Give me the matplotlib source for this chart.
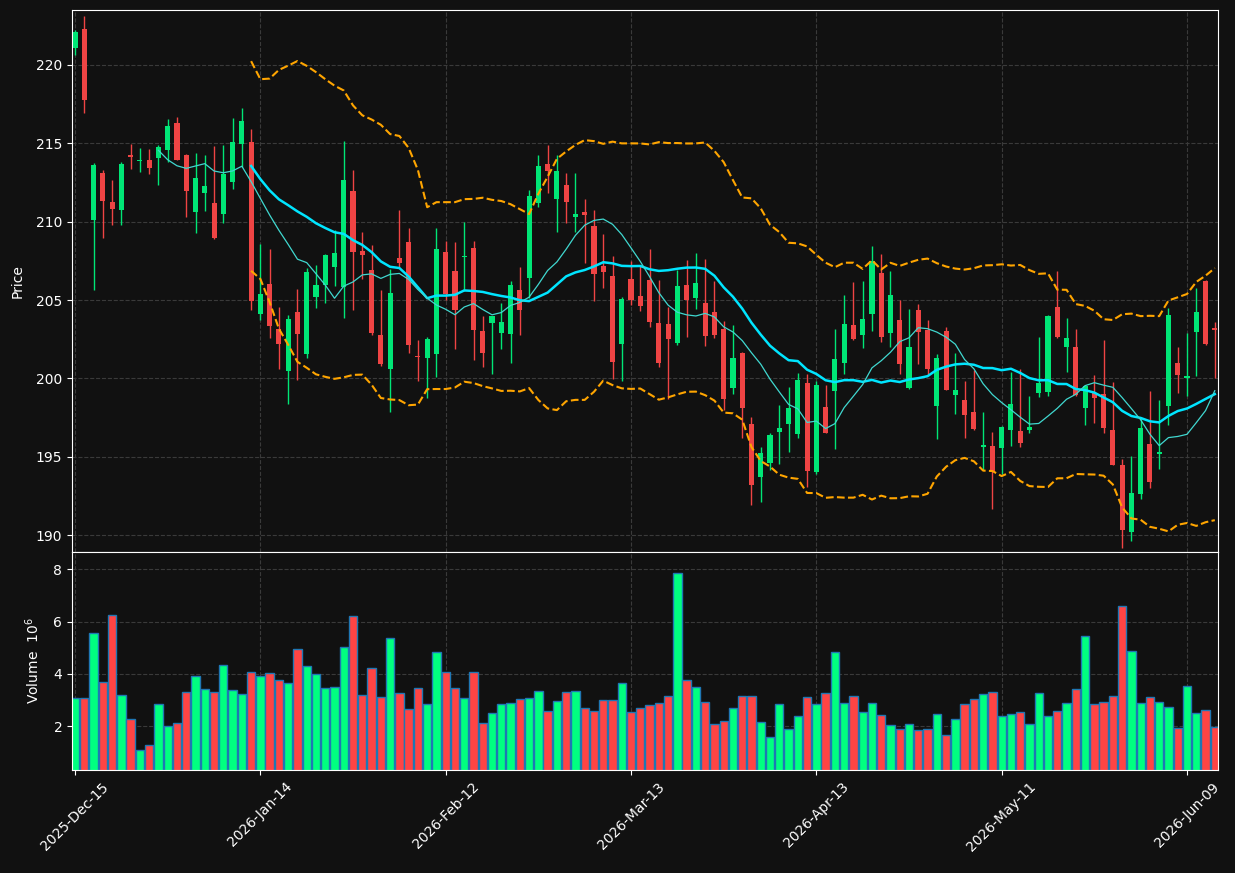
import numpy as np
import pandas as pd
import matplotlib
matplotlib.use('Agg')
import matplotlib.pyplot as plt

# daily OHLC and volume in millions
opens = [221.11, 222.28, 210.13, 213.10, 211.26, 210.75, 214.26, 213.88, 213.92, 214.08,
         214.57, 216.30, 214.26, 210.64, 211.84, 211.20, 210.51, 212.55, 214.97, 215.08,
         204.12, 206.03, 203.15, 200.49, 204.24, 201.55, 205.21, 205.99, 207.14, 205.81,
         211.95, 208.14, 206.92, 202.77, 200.62, 207.67, 208.71, 201.46, 201.33, 201.55,
         208.07, 206.85, 207.76, 208.31, 203.02, 203.55, 202.93, 202.86, 205.63, 206.43,
         211.20, 213.68, 211.46, 212.35, 210.27, 210.62, 209.73, 207.16, 206.54, 202.20,
         206.34, 205.26, 206.27, 203.53, 203.48, 202.28, 205.96, 205.10, 204.81, 204.24,
         203.15, 199.40, 201.62, 197.10, 193.73, 194.61, 196.61, 197.12, 196.45, 199.71,
         194.01, 198.18, 199.18, 201.00, 203.41, 202.79, 204.12, 206.72, 202.88, 203.73,
         199.38, 204.37, 203.08, 198.23, 203.02, 198.96, 198.63, 197.85, 195.65, 195.70,
         195.57, 196.72, 196.65, 196.72, 199.07, 199.16, 204.57, 202.02, 202.00, 198.12,
         199.07, 199.00, 196.72, 194.48, 190.18, 192.66, 195.79, 195.21, 198.27, 200.98,
         200.00, 202.99, 206.21, 203.24]
highs = [222.24, 223.13, 213.75, 213.30, 212.64, 213.79, 214.97, 214.68, 214.63, 214.86,
         216.52, 216.65, 214.30, 214.39, 214.24, 214.81, 214.88, 216.59, 217.23, 215.90,
         208.60, 208.25, 204.55, 204.04, 205.70, 207.05, 207.21, 207.92, 209.49, 215.12,
         213.28, 209.31, 208.54, 205.63, 206.98, 210.73, 209.58, 202.48, 202.66, 209.58,
         208.76, 208.69, 209.96, 208.76, 203.97, 204.01, 204.83, 206.19, 207.14, 212.00,
         214.24, 214.88, 214.24, 213.08, 213.08, 211.42, 210.73, 209.20, 207.80, 205.19,
         207.49, 207.21, 208.25, 206.25, 204.55, 206.90, 207.54, 207.98, 207.61, 206.19,
         203.64, 203.44, 201.66, 197.56, 195.61, 196.50, 198.29, 199.47, 200.33, 200.27,
         199.82, 199.56, 203.15, 205.30, 206.14, 206.19, 208.43, 207.92, 206.83, 204.99,
         204.43, 204.72, 203.73, 201.55, 203.28, 201.60, 199.82, 200.56, 197.83, 196.56,
         196.96, 200.40, 200.60, 198.87, 202.64, 204.04, 206.85, 203.84, 203.15, 199.60,
         200.22, 202.44, 199.78, 194.86, 195.06, 197.45, 199.18, 198.60, 204.48, 202.00,
         202.88, 205.76, 206.25, 203.59]
lows = [220.62, 216.96, 205.63, 208.98, 209.76, 209.80, 213.39, 213.19, 213.02, 212.37,
        213.81, 213.92, 210.27, 209.27, 210.71, 208.91, 209.89, 212.11, 213.48, 204.35,
        203.70, 202.55, 200.62, 198.40, 199.91, 201.29, 204.48, 204.83, 205.88, 203.84,
        204.35, 206.32, 202.77, 200.78, 197.85, 207.10, 201.60, 199.82, 198.74, 200.11,
        204.99, 201.86, 205.59, 201.15, 200.71, 200.29, 201.86, 200.98, 202.75, 205.10,
        210.91, 211.84, 209.31, 209.89, 209.31, 207.38, 204.92, 205.76, 199.98, 199.84,
        204.66, 204.30, 203.28, 200.71, 198.67, 202.11, 202.66, 204.43, 202.04, 202.59,
        198.00, 198.98, 196.23, 191.91, 192.13, 194.17, 194.57, 195.34, 196.19, 193.06,
        193.88, 196.50, 195.50, 200.29, 202.44, 201.95, 203.02, 202.31, 201.99, 200.29,
        199.33, 200.93, 200.27, 196.12, 199.25, 197.72, 196.23, 196.74, 194.17, 191.69,
        193.90, 195.72, 195.65, 196.50, 198.80, 198.89, 202.60, 200.40, 198.85, 197.01,
        197.18, 196.50, 194.48, 189.18, 189.65, 192.28, 193.02, 194.21, 197.01, 199.05,
        198.85, 200.18, 202.11, 200.00]
closes = [222.11, 217.78, 213.61, 211.29, 210.78, 213.68, 214.15, 213.92, 213.41, 214.77,
          216.10, 213.95, 211.97, 212.79, 212.28, 208.98, 213.04, 215.08, 216.43, 204.92,
          205.39, 203.37, 202.22, 203.79, 202.86, 206.78, 205.96, 207.87, 207.98, 212.66,
          208.09, 207.85, 202.88, 200.89, 205.43, 207.38, 202.15, 201.40, 202.51, 208.25,
          205.37, 204.39, 207.80, 203.10, 201.64, 203.99, 203.59, 205.96, 204.39, 211.62,
          213.53, 213.26, 213.24, 211.26, 210.47, 210.44, 206.65, 206.81, 201.06, 205.08,
          205.01, 204.59, 203.61, 201.00, 202.53, 205.90, 204.99, 206.08, 202.73, 202.79,
          198.71, 201.31, 198.12, 193.22, 195.23, 196.39, 196.83, 198.12, 199.89, 194.12,
          199.58, 196.54, 201.24, 203.48, 202.53, 203.79, 207.47, 202.66, 205.32, 200.89,
          202.00, 202.99, 200.62, 201.31, 199.29, 199.27, 197.69, 196.79, 195.74, 194.01,
          196.90, 198.40, 195.88, 196.90, 199.71, 203.99, 202.62, 202.57, 198.94, 199.51,
          198.78, 196.83, 194.50, 190.35, 192.68, 196.83, 193.41, 195.34, 204.04, 200.24,
          200.16, 204.24, 202.20, 203.06]
volumes = [3.08, 3.08, 5.58, 3.69, 6.27, 3.19, 2.27, 1.08, 1.27, 2.85,
           2.00, 2.12, 3.31, 3.92, 3.42, 3.31, 4.35, 3.38, 3.23, 4.08,
           3.92, 4.04, 3.77, 3.65, 4.96, 4.31, 4.00, 3.46, 3.50, 5.04,
           6.23, 3.19, 4.23, 3.12, 5.38, 3.27, 2.65, 3.46, 2.85, 4.85,
           4.08, 3.46, 3.08, 4.08, 2.12, 2.50, 2.85, 2.88, 3.04, 3.08,
           3.35, 2.58, 2.96, 3.31, 3.35, 2.69, 2.58, 3.00, 3.00, 3.65,
           2.54, 2.69, 2.81, 2.88, 3.15, 7.88, 3.77, 3.50, 2.92, 2.08,
           2.19, 2.69, 3.15, 3.15, 2.15, 1.58, 2.85, 1.88, 2.38, 3.12,
           2.85, 3.27, 4.85, 2.88, 3.15, 2.54, 2.88, 2.42, 2.04, 1.88,
           2.08, 1.85, 1.88, 2.46, 1.65, 2.27, 2.85, 3.04, 3.23, 3.31,
           2.38, 2.46, 2.54, 2.08, 3.27, 2.38, 2.58, 2.88, 3.42, 5.46,
           2.85, 2.92, 3.15, 6.62, 4.88, 2.88, 3.12, 2.92, 2.73, 1.92,
           3.54, 2.50, 2.62, 1.96]

holidays = ['2025-12-25', '2026-01-01', '2026-01-19', '2026-02-16', '2026-04-03', '2026-05-25']
dates = pd.bdate_range('2025-12-15', periods=len(closes), freq='C', holidays=holidays)

df = pd.DataFrame({'open': opens, 'high': highs, 'low': lows, 'close': closes,
                   'volume': volumes}, index=dates)
df['ma10'] = df['close'].rolling(10).mean()
df['ma20'] = df['close'].rolling(20).mean()
std20 = df['close'].rolling(20).std(ddof=0)
df['bb_up'] = df['ma20'] + 2 * std20
df['bb_low'] = df['ma20'] - 2 * std20

bg = '#111111'
up_c, down_c = '#00e676', '#ef4444'
vol_up, vol_down = '#00ff80', '#ff4444'

x = np.arange(len(df))
up = df['close'] >= df['open']

fig = plt.figure(figsize=(12.35, 8.73), dpi=100, facecolor=bg)
ax = fig.add_axes([0.0583, 0.3677, 0.9279, 0.6208])
axv = fig.add_axes([0.0583, 0.118, 0.9279, 0.2497], sharex=ax)

# candles
colors = np.where(up, up_c, down_c)
ax.vlines(x, df['low'], df['high'], colors=colors, linewidth=1, zorder=3)
body_h = (df['close'] - df['open']).abs().clip(lower=0.06)
body_b = df[['open', 'close']].min(axis=1)
ax.bar(x, body_h, bottom=body_b, width=0.55, color=colors, linewidth=0, zorder=4)

# indicators
ax.plot(x, df['ma20'], color='#00e5ff', linewidth=1.8, zorder=5)
ax.plot(x, df['ma10'], color='#40d8d0', linewidth=0.9, zorder=5)
ax.plot(x, df['bb_up'], color='#ffa500', linewidth=1.5, linestyle='--', zorder=5)
ax.plot(x, df['bb_low'], color='#ffa500', linewidth=1.5, linestyle='--', zorder=5)

# volume
vcolors = np.where(up, vol_up, vol_down)
axv.bar(x, df['volume'], width=0.9, color=vcolors, edgecolor='#1f77b4', linewidth=1)

for a in (ax, axv):
    a.set_facecolor(bg)
    a.grid(True, color='#3a3a3a', linestyle='--', linewidth=0.8)
    a.set_axisbelow(True)
    for s in a.spines.values():
        s.set_color('white')
    a.tick_params(colors='white', labelsize=10)

ax.set_xlim(-0.33, len(df) - 0.66)
ax.set_ylim(188.93, 223.5)
ax.set_yticks([190, 195, 200, 205, 210, 215, 220])
ax.set_ylabel('Price', color='white', fontsize=10, labelpad=8)
ax.tick_params(axis='x', labelbottom=False, length=0)

vmax = df['volume'].max()
vmin = df['volume'].min()
axv.set_ylim(vmin * 0.3, vmax * 1.1)
axv.set_yticks([2, 4, 6, 8])
axv.set_ylabel('Volume  $10^{6}$', color='white', fontsize=10, labelpad=8)

ticks = list(range(0, len(df), 20))
axv.set_xticks(ticks)
axv.set_xticklabels([dates[i].strftime('%Y-%b-%d') for i in ticks], rotation=45, ha='center')

fig.savefig('out.png', dpi=100, facecolor=bg)
